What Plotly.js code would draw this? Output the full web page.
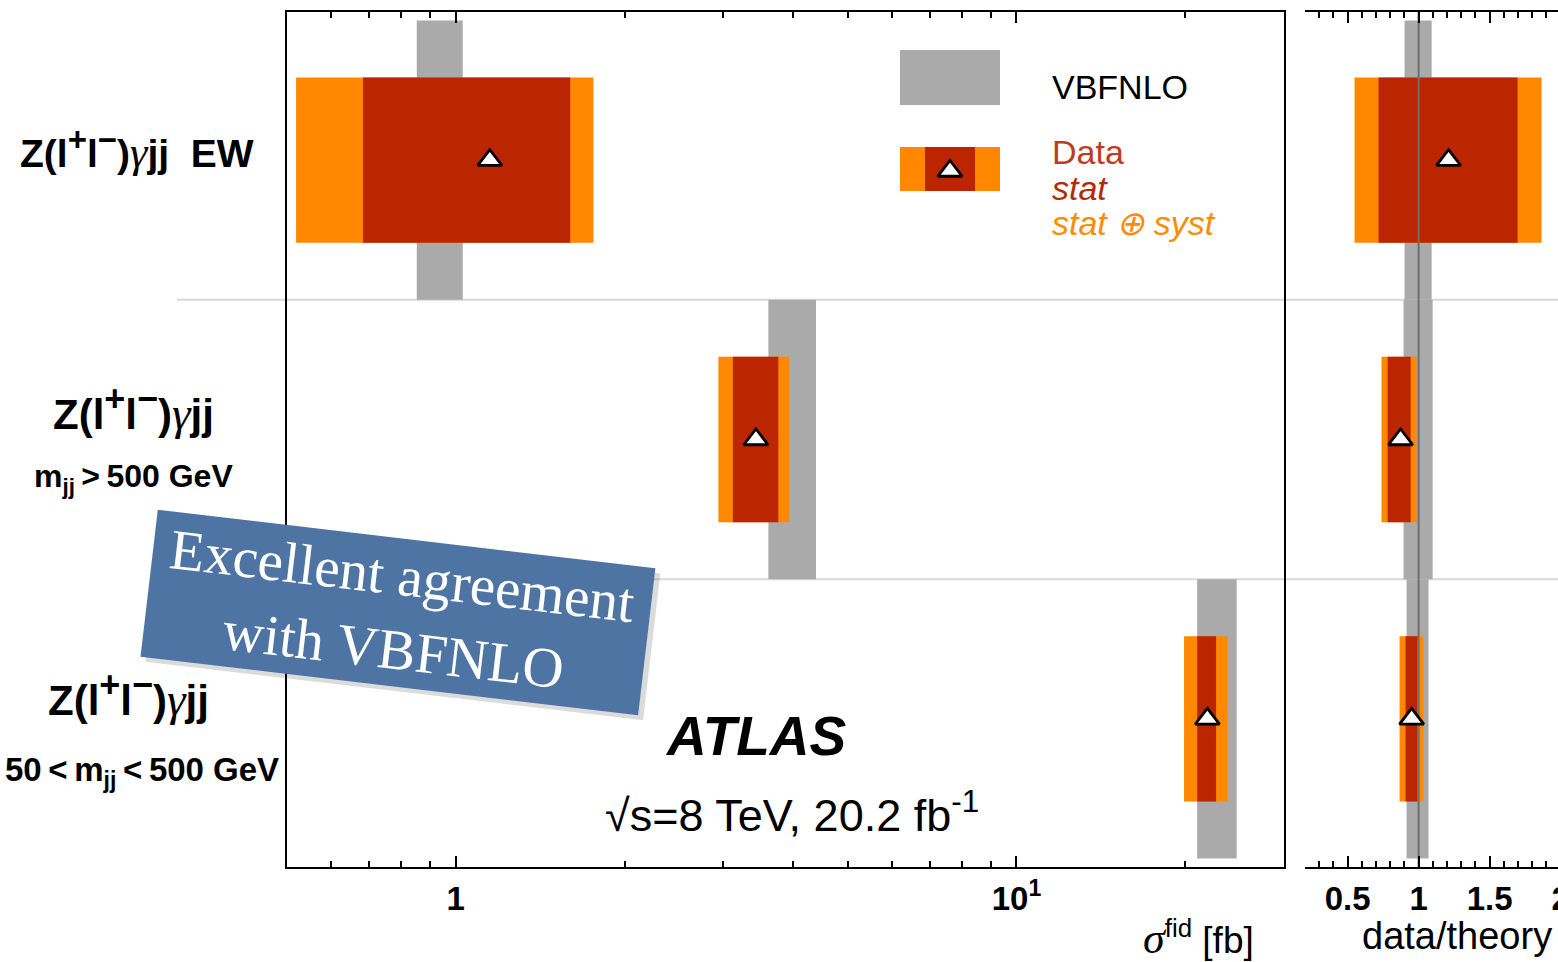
<!DOCTYPE html>
<html><head><meta charset="utf-8">
<script src="https://cdn.plot.ly/plotly-3.0.1.min.js"></script>
<style>html,body{margin:0;padding:0;overflow:hidden;background:#fff}#chart{width:1620px;height:962px}</style>
</head><body><div id="chart"></div>
<script>
// ---- data (rows listed top to bottom) ----
const rowNames = ["Z(ll)γjj EW", "Z(ll)γjj mjj>500 GeV", "Z(ll)γjj 50<mjj<500 GeV"];
const theoryLo = [0.852, 3.61, 21.0];
const theoryHi = [1.029, 4.39, 24.7];
const dataVal  = [1.15, 3.43, 21.9];
const statLo   = [0.683, 3.12, 21.0];
const statHi   = [1.60, 3.76, 22.7];
const totLo    = [0.519, 2.94, 19.9];
const totHi    = [1.76, 3.93, 23.8];
const ratioTheoryLo = [0.901, 0.894, 0.915];
const ratioTheoryHi = [1.092, 1.099, 1.070];
const ratioVal      = [1.211, 0.873, 0.951];
const ratioStatLo   = [0.718, 0.782, 0.908];
const ratioStatHi   = [1.697, 0.944, 0.993];
const ratioTotLo    = [0.549, 0.739, 0.866];
const ratioTotHi    = [1.866, 0.986, 1.035];
const xTickVals = [1, 10];
const xTickText = ["1", "10<sup>1</sup>"];
const xMinorVals = [0.6, 0.7, 0.8, 0.9, 2, 3, 4, 5, 6, 7, 8, 9, 20, 30];
const rTickVals = [0.5, 1, 1.5, 2];
const rTickText = ["0.5", "1", "1.5", "2"];

// ---- styling ----
const W = 1620, H = 962;
const GRAY = '#aaaaaa', ORANGE = '#ff8800', RED = '#bb2500';
const pitch = 0.98, halfData = 0.29;
const rowC = i => 1.5 + (1 - i) * pitch;
const px = v => v / W, py = v => 1 - v / H;

function rect(x0, x1, y0, y1, color, xa, ya) {
  return {type: 'scatter', mode: 'lines', x: [x0, x1, x1, x0, x0], y: [y0, y0, y1, y1, y0],
    fill: 'toself', fillcolor: color, line: {width: 0, color: color},
    xaxis: xa, yaxis: ya || 'y', hoverinfo: 'skip', showlegend: false};
}
const traces = [];
rowNames.forEach((n, i) => {
  const c = rowC(i);
  traces.push(rect(theoryLo[i], theoryHi[i], c - pitch / 2, c + pitch / 2, GRAY, 'x'));
  traces.push(rect(ratioTheoryLo[i], ratioTheoryHi[i], c - pitch / 2, c + pitch / 2, GRAY, 'x2'));
});
rowNames.forEach((n, i) => {
  const c = rowC(i);
  traces.push(rect(totLo[i], totHi[i], c - halfData, c + halfData, ORANGE, 'x'));
  traces.push(rect(statLo[i], statHi[i], c - halfData, c + halfData, RED, 'x'));
  traces.push(rect(ratioTotLo[i], ratioTotHi[i], c - halfData, c + halfData, ORANGE, 'x2'));
  traces.push(rect(ratioStatLo[i], ratioStatHi[i], c - halfData, c + halfData, RED, 'x2'));
});
traces.push({type: 'scatter', mode: 'lines', x: [1, 1], y: [0, 3], xaxis: 'x2', yaxis: 'y',
  line: {color: '#6e6e6e', width: 2}, hoverinfo: 'skip', showlegend: false});
const mk = {symbol: 'triangle-up', size: 21, color: 'white', line: {color: 'black', width: 2.8}};
traces.push({type: 'scatter', mode: 'markers', x: dataVal, y: rowNames.map((n, i) => rowC(i)),
  xaxis: 'x', yaxis: 'y', marker: mk, cliponaxis: false, name: 'Data', showlegend: false});
traces.push({type: 'scatter', mode: 'markers', x: ratioVal, y: rowNames.map((n, i) => rowC(i)),
  xaxis: 'x2', yaxis: 'y', marker: mk, cliponaxis: false, name: 'Data/theory', showlegend: false});
// legend keys on a pixel-mapped overlay axis
traces.push(rect(900, 1000, 50, 105, GRAY, 'x3', 'y3'));
traces.push(rect(900, 1000, 147, 191, ORANGE, 'x3', 'y3'));
traces.push(rect(925, 975, 147, 191, RED, 'x3', 'y3'));
traces.push({type: 'scatter', mode: 'markers', x: [950], y: [171], xaxis: 'x3', yaxis: 'y3',
  marker: mk, hoverinfo: 'skip', showlegend: false});

const tickFont = {family: 'Liberation Sans, Arial, sans-serif', size: 33, color: 'black', weight: 700};
const axBase = {showline: true, linecolor: 'black', linewidth: 2, mirror: 'allticks', ticks: 'inside',
  ticklen: 11, tickwidth: 2, tickcolor: 'black', showgrid: false, zeroline: false, tickfont: tickFont,
  fixedrange: true, ticklabelstandoff: 1};
const layout = {
  width: W, height: H, margin: {l: 0, r: 0, t: 0, b: 0},
  paper_bgcolor: 'white', plot_bgcolor: 'rgba(0,0,0,0)', showlegend: false,
  xaxis: Object.assign({}, axBase, {type: 'log', domain: [px(287), px(1284)],
    range: [Math.log10(0.5), Math.log10(30)], tickmode: 'array', tickvals: xTickVals, ticktext: xTickText,
    minor: {tickmode: 'array', tickvals: xMinorVals, ticks: 'inside', ticklen: 6, tickwidth: 2, tickcolor: 'black'},
    anchor: 'y'}),
  xaxis2: Object.assign({}, axBase, {domain: [px(1305), px(1589)], range: [0.2, 2.2],
    tickmode: 'array', tickvals: rTickVals, ticktext: rTickText,
    minor: {tick0: 0, dtick: 0.1, ticks: 'inside', ticklen: 6, tickwidth: 2, tickcolor: 'black'},
    anchor: 'y'}),
  yaxis: {domain: [py(867), py(12)], range: [0, 3], showline: true, linecolor: 'black', linewidth: 2,
    mirror: true, ticks: '', showticklabels: false, showgrid: false, zeroline: false, fixedrange: true},
  xaxis3: {domain: [0, 1], range: [0, W], visible: false, anchor: 'y3', fixedrange: true},
  yaxis3: {domain: [0, 1], range: [H, 0], visible: false, anchor: 'x3', fixedrange: true},
  shapes: [1.5 + pitch / 2, 1.5 - pitch / 2].map(yv => ({type: 'line', xref: 'paper', yref: 'y',
    x0: px(177), x1: 1, y0: yv, y1: yv, line: {color: '#d8d8d8', width: 2}, layer: 'below'})),
  annotations: []
};
const A = layout.annotations;
const SANS = 'Liberation Sans, Arial, sans-serif';
function proc(sz) {
  const s = Math.round(sz * 0.85);
  const gam = '<span style="font-family:\'Liberation Serif\',serif;font-weight:normal;font-size:' + Math.round(sz * 1.12) + 'px"><i>γ</i></span>';
  return 'Z(l<sup><span style="font-size:' + s + 'px">+</span></sup>l<sup><span style="font-size:' + s + 'px">−</span></sup>)' + gam + 'jj';
}
function lab(text, x, y, size, opts) {
  A.push(Object.assign({xref: 'paper', yref: 'paper', x: px(x), y: py(y), text: text, showarrow: false,
    xanchor: 'center', yanchor: 'middle', font: {family: SANS, size: size, color: 'black', weight: 700}}, opts || {}));
}
lab(proc(39) + '\u00a0\u00a0EW', 256, 149, 39, {xanchor: 'right'});
lab(proc(42), 133, 408, 42);
lab('m<sub>jj</sub>\u2009&gt;\u2009500 GeV', 133, 478, 32);
lab(proc(42), 128, 694, 42);
lab('50\u2009&lt;\u2009m<sub>jj</sub>\u2009&lt;\u2009500 GeV', 281, 772, 33, {xanchor: 'right'});
// ATLAS label
lab('<i>ATLAS</i>', 756, 736, 55);
lab('√s=8 TeV, 20.2 fb<sup>-1</sup>', 792, 812, 45, {font: {family: SANS, size: 45, color: 'black'}});
// legend texts
lab('VBFNLO', 1050, 87, 34, {xanchor: 'left', font: {family: SANS, size: 34, color: 'black'}});
lab('Data', 1050, 152, 34, {xanchor: 'left', font: {family: SANS, size: 34, color: '#c03a1c'}});
lab('<i>stat</i>', 1050, 188, 34, {xanchor: 'left', font: {family: SANS, size: 34, color: '#b52a05'}});
lab('<i>stat ⊕ syst</i>', 1050, 223, 34, {xanchor: 'left', font: {family: SANS, size: 34, color: '#ff8c00'}});
// axis titles
lab('<span style="font-family:\'Liberation Serif\',serif;font-size:44px"><i>σ</i></span><sup>fid</sup> [fb]', 1256, 938, 37,
  {xanchor: 'right', font: {family: SANS, size: 37, color: 'black'}});
lab('data/theory', 1457, 936, 38, {font: {family: SANS, size: 38, color: 'black'}});
// blue note with shadow
const note = 'Excellent agreement<br>with VBFNLO';
A.push({xref: 'paper', yref: 'paper', x: px(403), y: py(617), text: note, showarrow: false,
  xanchor: 'center', yanchor: 'middle', textangle: 6.7, width: 500, height: 147,
  bgcolor: 'rgba(0,0,0,0.14)', borderpad: 0, font: {family: 'Liberation Serif, serif', size: 57, color: 'rgba(0,0,0,0)'}});
A.push({xref: 'paper', yref: 'paper', x: px(398), y: py(612), text: note, showarrow: false,
  xanchor: 'center', yanchor: 'middle', textangle: 6.7, width: 500, height: 147,
  bgcolor: '#4e74a4', borderpad: 0, font: {family: 'Liberation Serif, serif', size: 57, color: 'white'}});

Plotly.newPlot('chart', traces, layout, {staticPlot: true, displayModeBar: false});
</script></body></html>
